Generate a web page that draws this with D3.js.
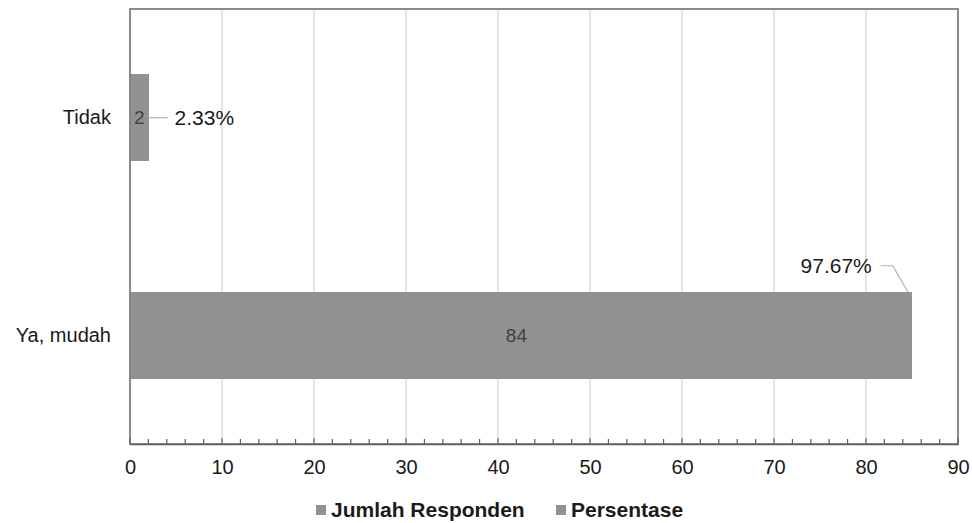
<!DOCTYPE html>
<html>
<head>
<meta charset="utf-8">
<script src="https://cdn.jsdelivr.net/npm/d3@7"></script>
<style>
  html, body { margin: 0; padding: 0; background: #fff; }
  svg { display: block; font-family: "Liberation Sans", Arial, sans-serif; }
</style>
</head>
<body>
<svg id="chart" width="972" height="523"></svg>
<script>
// Answer categories (top to bottom)
const categories = ["Tidak", "Ya, mudah"];
// Respondent counts
const jumlahResponden = [2, 84];
// Share of respondents, as fractions (stacked after the counts)
const persentase = [0.0233, 0.9767];
// Percent labels
const persenLabels = ["2.33%", "97.67%"];
// X axis ticks
const xTicks = [0, 10, 20, 30, 40, 50, 60, 70, 80, 90];
const seriesNames = ["Jumlah Responden", "Persentase"];

const barColor = "#919191";
const textColor = "#1a1a1a";
const svg = d3.select("#chart");
const margin = { left: 130, right: 14, top: 9, bottom: 79 };
const W = 972, H = 523;
const x0 = margin.left, x1 = W - margin.right;
const y0 = margin.top, y1 = H - margin.bottom;

const x = d3.scaleLinear().domain([0, 90]).range([x0, x1]);
const y = d3.scaleBand().domain(categories).range([y0, y1]).paddingInner(0.6).paddingOuter(0.3);

// Vertical gridlines
svg.append("g").selectAll("line").data(xTicks.slice(1, -1)).join("line")
  .attr("x1", d => x(d)).attr("x2", d => x(d))
  .attr("y1", y0).attr("y2", y1)
  .attr("stroke", "#dcdcdc").attr("stroke-width", 1.5);

// Stacked bars: counts, then the percentage share
const rows = categories.map((c, i) => ({ cat: c, j: jumlahResponden[i], p: persentase[i] }));
const stack = d3.stack().keys(["j", "p"])(rows);
const bars = svg.append("g").attr("shape-rendering", "crispEdges");
stack.forEach(layer => {
  bars.selectAll(null).data(layer).join("rect")
    .attr("x", d => x(d[0]))
    .attr("y", d => y(d.data.cat))
    .attr("width", d => x(d[1]) - x(d[0]))
    .attr("height", y.bandwidth())
    .attr("fill", barColor);
});

// Count labels inside the first segment
svg.append("g").selectAll("text").data(rows).join("text")
  .attr("x", d => (x(0) + x(d.j)) / 2)
  .attr("y", d => y(d.cat) + y.bandwidth() / 2)
  .attr("dy", "0.35em")
  .attr("text-anchor", "middle")
  .attr("font-size", 19)
  .attr("fill", "#404040")
  .text(d => d.j);

// Percentage labels with leader lines
const endX = rows.map(d => x(d.j + d.p));
// Tidak: to the right of the bar
{
  const cy = y(categories[0]) + y.bandwidth() / 2;
  svg.append("line")
    .attr("x1", endX[0]).attr("x2", endX[0] + 19)
    .attr("y1", cy).attr("y2", cy)
    .attr("stroke", "#b0b0b0").attr("stroke-width", 1.2);
  svg.append("text")
    .attr("x", endX[0] + 26).attr("y", cy).attr("dy", "0.35em")
    .attr("font-size", 21).attr("fill", textColor)
    .text(persenLabels[0]);
}
// Ya, mudah: above the bar's end
{
  const top = y(categories[1]);
  const ex = endX[1] - 4;
  const ly = top - 26;
  svg.append("path")
    .attr("d", `M${ex},${top} L${ex - 15},${ly} L${ex - 27},${ly}`)
    .attr("fill", "none").attr("stroke", "#b0b0b0").attr("stroke-width", 1.2);
  svg.append("text")
    .attr("x", ex - 36).attr("y", ly).attr("dy", "0.35em")
    .attr("text-anchor", "end")
    .attr("font-size", 21).attr("fill", textColor)
    .text(persenLabels[1]);
}

// Plot frame
svg.append("rect")
  .attr("x", x0).attr("y", y0).attr("width", x1 - x0).attr("height", y1 - y0)
  .attr("fill", "none").attr("stroke", "#7f7f7f").attr("stroke-width", 1.8);

// X axis with inward minor ticks
const minor = d3.range(0, 91, 2);
svg.append("g").selectAll("line").data(minor).join("line")
  .attr("x1", d => x(d)).attr("x2", d => x(d))
  .attr("y1", y1).attr("y2", d => y1 - (d % 10 === 0 ? 6 : 5))
  .attr("stroke", "#606060").attr("stroke-width", 1.2);
const xAxis = d3.axisBottom(x).tickValues(xTicks).tickSize(0).tickPadding(16);
const gx = svg.append("g").attr("transform", `translate(0,${y1})`).call(xAxis);
gx.select(".domain").attr("stroke", "#606060").attr("stroke-width", 1.5);
gx.selectAll("text").attr("font-size", 20).attr("fill", textColor)
  .attr("font-family", "'Liberation Sans', Arial, sans-serif");

// Category labels
const yAxis = d3.axisLeft(y).tickSize(0).tickPadding(19);
const gy = svg.append("g").attr("transform", `translate(${x0},0)`).call(yAxis);
gy.select(".domain").remove();
gy.selectAll("text").attr("font-size", 20).attr("fill", textColor)
  .attr("font-family", "'Liberation Sans', Arial, sans-serif");

// Legend
const legend = svg.append("g").attr("transform", "translate(316,510)");
const legendX = [0, 240];
seriesNames.forEach((name, i) => {
  const g = legend.append("g").attr("transform", `translate(${legendX[i]},0)`);
  g.append("rect").attr("x", 0).attr("y", -5).attr("width", 10).attr("height", 10).attr("fill", barColor);
  g.append("text").attr("x", 15).attr("y", 0).attr("dy", "0.35em")
    .attr("font-size", 21).attr("font-weight", "bold").attr("fill", textColor)
    .text(name);
});
</script>
</body>
</html>
